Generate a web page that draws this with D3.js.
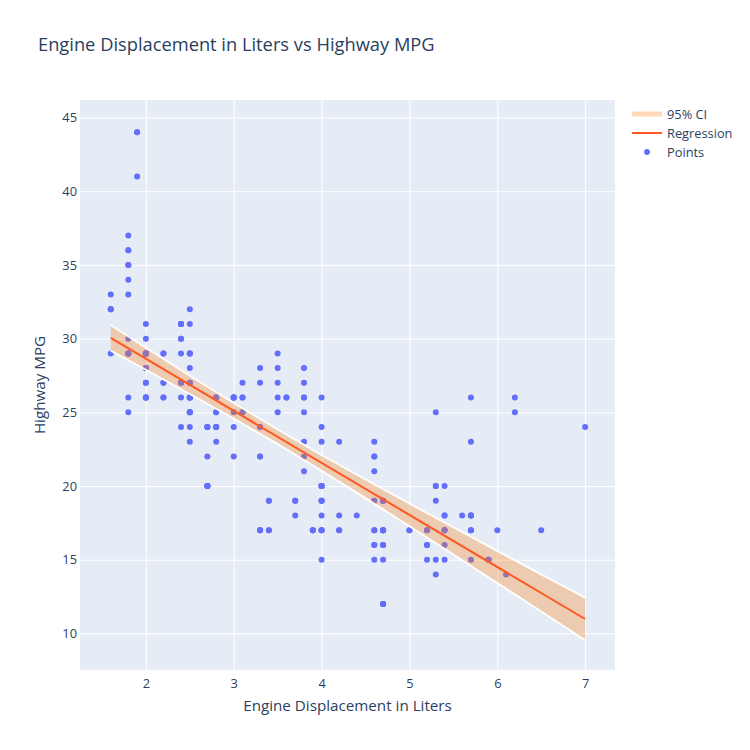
<!DOCTYPE html>
<html>
<head>
<meta charset="utf-8">
<script src="https://cdn.jsdelivr.net/npm/d3@7"></script>
<style>
  body { margin: 0; background: #fff; }
  text { font-family: "Open Sans", verdana, arial, sans-serif; fill: #2a3f5f; }
</style>
</head>
<body>
<div id="chart"></div>
<script>
// engine displacement (litres) and highway mpg, one entry per car
var displ = [
  1.8,1.8,2.0,2.0,2.8,2.8,3.1,1.8,1.8,2.0,2.0,2.8,2.8,3.1,3.1,2.8,3.1,4.2,
  5.3,5.3,5.3,5.7,6.0,5.7,5.7,6.2,6.2,7.0,5.3,5.3,5.7,6.5,2.4,2.4,3.1,3.5,3.6,
  2.4,3.0,3.3,3.3,3.3,3.3,3.3,3.8,3.8,3.8,4.0,3.7,3.7,3.9,3.9,4.7,4.7,4.7,5.2,5.2,
  3.9,4.7,4.7,4.7,5.2,5.7,5.9,4.7,4.7,4.7,4.7,4.7,5.2,5.2,5.7,5.9,5.9,
  4.6,5.4,5.4,4.0,4.0,4.0,4.0,4.6,5.0,4.2,4.2,4.6,4.6,4.6,5.4,5.4,
  3.8,3.8,4.0,4.0,4.6,4.6,4.6,4.6,5.4,
  1.6,1.6,1.6,1.6,1.6,1.8,1.8,1.8,2.0,
  2.4,2.4,2.4,2.4,2.5,2.5,3.3,2.0,2.0,2.0,2.0,2.7,2.7,2.7,
  3.0,3.7,4.0,4.7,4.7,4.7,5.7,6.1,
  4.0,4.2,4.4,4.6,
  5.4,5.4,5.4,
  4.0,4.0,4.6,5.0,
  2.4,2.4,2.5,2.5,3.5,3.5,3.0,3.0,3.5,3.3,3.3,4.0,5.6,
  3.1,3.8,3.8,3.8,5.3,
  2.5,2.5,2.5,2.5,2.5,2.5,2.2,2.2,2.5,2.5,2.5,2.5,2.5,2.5,
  2.7,2.7,3.4,3.4,4.0,4.7,2.2,2.2,2.4,2.4,3.0,3.0,3.5,2.2,2.2,2.4,2.4,3.0,3.0,3.3,
  1.8,1.8,1.8,1.8,1.8,4.7,5.7,2.7,2.7,2.7,3.4,3.4,4.0,4.0,
  2.0,2.0,2.0,2.0,2.8,1.9,2.0,2.0,2.0,2.0,2.5,2.5,2.8,2.8,
  1.9,1.9,2.0,2.0,2.5,2.5,1.8,1.8,2.0,2.0,2.8,2.8,3.6
];
var hwy = [
  29,29,31,30,26,26,27,26,25,28,27,25,25,25,25,24,25,23,
  20,15,20,17,17,26,23,26,25,24,19,14,15,17,27,30,26,29,26,
  24,24,22,22,24,24,17,22,21,23,23,19,18,17,17,19,19,12,17,17,
  17,17,12,17,16,18,15,16,12,17,17,16,15,16,17,15,15,
  17,17,18,17,19,17,19,19,17,17,17,16,16,17,15,17,
  26,25,26,24,21,22,23,22,20,
  33,32,32,29,32,34,36,36,29,
  26,27,30,31,26,26,28,26,29,28,27,24,24,24,
  22,19,20,17,12,19,18,14,
  15,18,18,15,
  17,16,18,
  17,19,19,17,
  29,27,31,32,27,26,26,25,25,17,17,20,18,
  26,26,27,28,25,
  25,24,27,25,26,23,26,26,26,26,25,27,25,27,
  20,20,19,17,20,19,29,27,31,31,26,26,28,27,29,31,31,26,26,27,
  30,33,35,37,35,15,18,20,20,22,17,19,18,20,
  29,26,29,29,24,44,29,26,29,29,29,29,23,24,
  44,41,29,26,28,29,29,29,28,29,26,26,26
];

// fitted line and 95% band
var regX = [1.6, 7.0];
var regY = [30.05, 10.98];
var ciX     = [1.6, 2.0, 2.5, 3.0, 3.5, 4.0, 4.5, 5.0, 5.5, 6.0, 6.5, 7.0];
var ciLower = [29.18, 27.89, 26.25, 24.58, 22.85, 21.04, 19.18, 17.28, 15.36, 13.43, 11.49, 9.54];
var ciUpper = [30.92, 29.39, 27.49, 25.63, 23.83, 22.11, 20.44, 18.81, 17.20, 15.60, 14.01, 12.42];

var xTicks = [2, 3, 4, 5, 6, 7];
var yTicks = [10, 15, 20, 25, 30, 35, 40, 45];
var legendNames = ["95% CI", "Regression", "Points"];

var width = 750, height = 750;
var margin = {"top":100, "right":135, "bottom":80, "left":80};
var w = width - margin.left - margin.right,
    h = height - margin.top - margin.bottom;

var svg = d3.select("#chart").append("svg")
    .attr("width", width)
    .attr("height", height);

var xScale = d3.scaleLinear().domain([1.25, 7.34]).range([0, w]),
    yScale = d3.scaleLinear().domain([7.52, 46.19]).range([h, 0]);

var g = svg.append("g")
    .attr("transform", "translate(" + margin.left + "," + margin.top + ")");

g.append("rect")
    .attr("width", w)
    .attr("height", h)
    .attr("fill", "#E5ECF6");

// grid
g.append("g")
    .call(d3.axisBottom(xScale).tickValues(xTicks).tickSize(h).tickFormat(""))
    .call(a => a.select(".domain").remove())
    .selectAll("line").attr("stroke", "#fff").attr("stroke-width", 1);
g.append("g")
    .call(d3.axisLeft(yScale).tickValues(yTicks).tickSize(-w).tickFormat(""))
    .call(a => a.select(".domain").remove())
    .selectAll("line").attr("stroke", "#fff").attr("stroke-width", 1);

// tick labels
g.append("g")
    .attr("transform", "translate(0," + h + ")")
    .call(d3.axisBottom(xScale).tickValues(xTicks).tickSize(0).tickPadding(9).tickFormat(d3.format("d")))
    .call(a => a.select(".domain").remove())
    .selectAll("text").attr("font-size", "12.8px").style("fill", "#2a3f5f");
g.append("g")
    .call(d3.axisLeft(yScale).tickValues(yTicks).tickSize(0).tickPadding(3))
    .call(a => a.select(".domain").remove())
    .selectAll("text").attr("font-size", "12.8px").style("fill", "#2a3f5f");

// points
var pts = displ.map((d, i) => ({x: d, y: hwy[i]}));
g.selectAll(".dot")
    .data(pts)
    .enter().append("circle")
    .attr("class", "dot")
    .attr("cx", d => xScale(d.x))
    .attr("cy", d => yScale(d.y))
    .attr("r", 3)
    .attr("fill", "#636EFA");

// confidence band
var band = ciX.map((d, i) => ({x: d, lo: ciLower[i], hi: ciUpper[i]}));
g.append("path")
    .datum(band)
    .attr("fill", "rgba(255,127,14,0.3)")
    .attr("d", d3.area().x(d => xScale(d.x)).y0(d => yScale(d.lo)).y1(d => yScale(d.hi)));
["lo", "hi"].forEach(function(k){
    g.append("path")
        .datum(band)
        .attr("fill", "none")
        .attr("stroke", "#fff")
        .attr("stroke-width", 1.8)
        .attr("d", d3.line().x(d => xScale(d.x)).y(d => yScale(d[k])));
});

// regression line
g.append("path")
    .datum(regX.map((d, i) => ({x: d, y: regY[i]})))
    .attr("fill", "none")
    .attr("stroke", "#FF5722")
    .attr("stroke-width", 2)
    .attr("d", d3.line().x(d => xScale(d.x)).y(d => yScale(d.y)));

// titles
svg.append("text")
    .attr("x", 38)
    .attr("y", 51)
    .attr("font-size", "18.3px")
    .text("Engine Displacement in Liters vs Highway MPG");
svg.append("text")
    .attr("x", margin.left + w / 2)
    .attr("y", 711)
    .attr("text-anchor", "middle")
    .attr("font-size", "15.2px")
    .text("Engine Displacement in Liters");
svg.append("text")
    .attr("transform", "translate(45," + (margin.top + h / 2) + ") rotate(-90)")
    .attr("text-anchor", "middle")
    .attr("font-size", "15.2px")
    .text("Highway MPG");

// legend
var leg = svg.append("g").attr("transform", "translate(632,114)");
leg.append("line").attr("x1", 0).attr("x2", 30).attr("y1", 0).attr("y2", 0)
    .attr("stroke", "rgba(255,127,14,0.3)").attr("stroke-width", 5);
leg.append("line").attr("x1", 0).attr("x2", 30).attr("y1", 19).attr("y2", 19)
    .attr("stroke", "#FF5722").attr("stroke-width", 2);
leg.append("circle").attr("cx", 15).attr("cy", 38).attr("r", 3).attr("fill", "#636EFA");
leg.selectAll(".lt")
    .data(legendNames)
    .enter().append("text")
    .attr("class", "lt")
    .attr("x", 35)
    .attr("y", (d, i) => i * 19 + 4.6)
    .attr("font-size", "12.8px")
    .text(d => d);
</script>
</body>
</html>
